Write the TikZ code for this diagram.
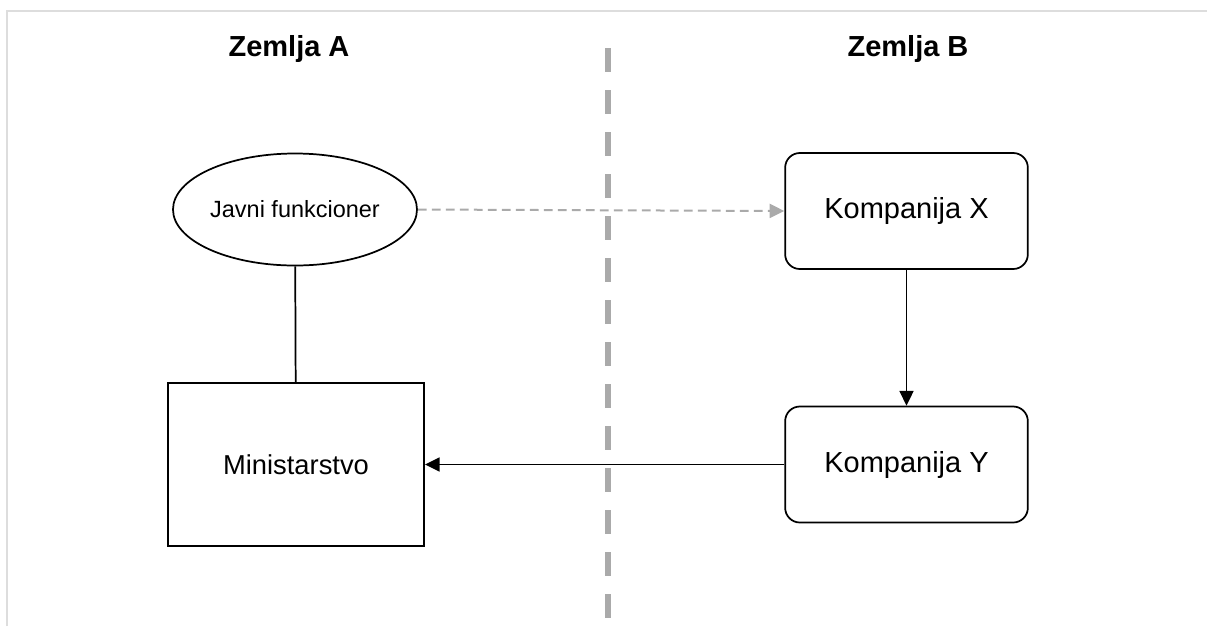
\documentclass[tikz,border=0pt]{standalone}
\usepackage{fontspec}
\setmainfont{Liberation Sans}
\usetikzlibrary{arrows.meta,shapes.geometric}
\definecolor{sepgray}{HTML}{AAAAAA}
\definecolor{framegray}{HTML}{DDDDDD}

\begin{document}
\begin{tikzpicture}[x=0.75pt, y=-0.75pt,
	every node/.style={font=\fontsize{17.6}{21}\selectfont, text=black},
	title/.style={font=\bfseries\fontsize{21.75}{26}\selectfont},
	person/.style={draw, ellipse, line width=1.3pt, minimum width=183pt, minimum height=84pt, inner sep=0pt},
	office/.style={draw, rectangle, line width=1.5pt, minimum width=192pt, minimum height=122pt, font=\fontsize{20.5}{25}\selectfont},
	firm/.style={draw, rounded corners=11pt, line width=1.3pt, minimum width=182pt, minimum height=87pt, font=\fontsize{21.75}{26}\selectfont},
	link/.style={line width=1.3pt, -{Triangle[length=11pt,width=10.5pt]}},
	hint/.style={sepgray, line width=1.5pt, dash pattern=on 6.5pt off 4pt, -{Triangle[length=11pt,width=10.5pt]}},
	border/.style={sepgray, line width=4.5pt, dash pattern=on 18pt off 13.5pt},
	]
\useasboundingbox (0,0) rectangle (1207,626);
\draw[framegray, line width=1.5pt] (7,626) -- (7,11) -- (1207,11);

\node[title] (zemA) at (289,49) {Zemlja A};
\node[title] (zemB) at (908,49) {Zemlja B};

\coordinate (sepTop) at (608,48);
\coordinate (sepBot) at (608,626);
\draw[border] (sepTop) -- (sepBot);

\node[person] (jf) at (295,209.5) {Javni funkcioner};
\node[office] (min) at (296,464.5) {Ministarstvo};
\node[firm] (kx) at (906.5,211) {Kompanija X};
\node[firm] (ky) at (906.5,464.5) {Kompanija Y};

\draw[line width=1.3pt] (jf) -- (min);
\draw[hint] (jf.east) -- (kx.west);
\draw[link] (kx) -- (ky);
\draw[link] (ky) -- (min);
\end{tikzpicture}
\end{document}
